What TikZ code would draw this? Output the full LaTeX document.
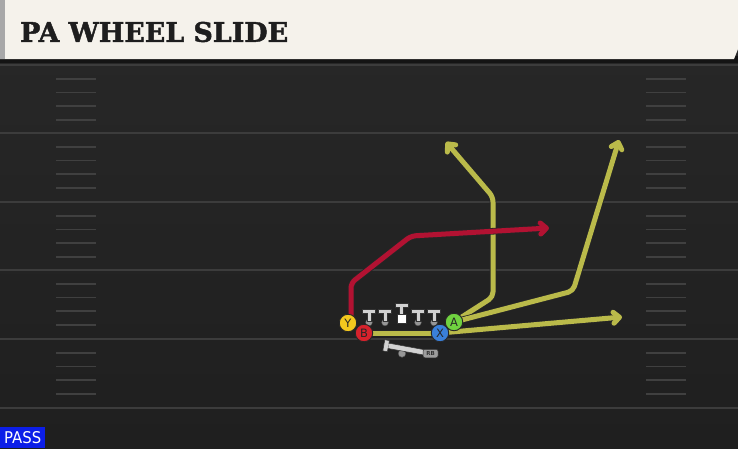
\documentclass[tikz,border=0pt]{standalone}
\usepackage{fontspec}
\usepackage{graphicx}
\setmainfont{DejaVu Sans}
\newfontfamily\titlefont[FakeBold=1.6]{DejaVu Serif Bold}
\usetikzlibrary{arrows.meta}
\definecolor{fieldtop}{RGB}{40,40,40}
\definecolor{fieldbot}{RGB}{31,31,31}
\definecolor{fieldline}{RGB}{60,60,60}
\definecolor{hashcol}{RGB}{64,64,64}
\definecolor{cream}{RGB}{245,242,235}
\definecolor{stripe}{RGB}{168,168,168}
\definecolor{olive}{RGB}{186,186,74}
\definecolor{routered}{RGB}{178,18,50}
\definecolor{pyellow}{RGB}{244,200,30}
\definecolor{pred}{RGB}{214,34,44}
\definecolor{pblue}{RGB}{58,128,218}
\definecolor{pgreen}{RGB}{112,210,64}
\definecolor{linegray}{RGB}{210,210,210}
\definecolor{dotgray}{RGB}{150,150,150}
\definecolor{passblue}{RGB}{12,30,232}
\definecolor{titleink}{RGB}{30,30,30}
\tikzset{
  route/.style={line width=5pt, line join=round, line cap=round, rounded corners=5pt,
    preaction={draw=black!85, line width=6.6pt}},
  tip/.style={-{Straight Barb[length=6pt,width=11pt,line cap=round,line join=round]}},
  player/.style={circle, draw=black!85, line width=0.9pt, minimum size=17.5pt, inner sep=0pt,
    text=black!85, font=\fontsize{11.5}{11.5}\selectfont},
  tman/.style={fill=linegray, draw=black!80, line width=0.5pt},
  hash/.style={draw=hashcol, line width=1.8pt},
  yard/.style={draw=fieldline, line width=2pt},
}
\begin{document}
\begin{tikzpicture}[x=1pt,y=-1pt]
\useasboundingbox (0,0) rectangle (738,448);
% field
\shade[top color=fieldtop, bottom color=fieldbot] (0,0) rectangle (738,448);
\foreach \yy in {65,133,202,270,339,408}{\draw[yard] (0,\yy) -- (738,\yy);}
\foreach \base in {65,133,202,270,339}{
  \foreach \k in {1,2,3,4}{
    \draw[hash] (56,\base+\k*13.7) -- (96,\base+\k*13.7);
    \draw[hash] (646,\base+\k*13.7) -- (686,\base+\k*13.7);
  }
}
% header
\fill[black!92] (0,56) rectangle (738,63);
\fill[cream] (0,0) -- (738,0) -- (738,49) -- (734,59) -- (0,59) -- cycle;
\fill[stripe] (0,0) rectangle (5,59);
\node[anchor=west, inner sep=0pt, text=titleink] (title) at (20,32)
  {\resizebox{268pt}{20pt}{\titlefont PA WHEEL SLIDE}};
% PASS label
\node[anchor=south west, fill=passblue, minimum width=45pt, minimum height=21pt, inner sep=0pt,
  text=white] (pass) at (0,448) {\resizebox{37pt}{12pt}{PASS}};
% player positions
\coordinate (Ypos) at (348,323);
\coordinate (Bpos) at (364,333);
\coordinate (Xpos) at (440,333);
\coordinate (Apos) at (454,322);
\coordinate (r1) at (351,323);
\coordinate (r2) at (351,283);
\coordinate (r3) at (411,236);
\coordinate (r4) at (549,228);
\coordinate (a1) at (493,297);
\coordinate (a2) at (493,197);
\coordinate (a3) at (446,142);
\coordinate (b1) at (573,291);
\coordinate (b2) at (619,140);
\coordinate (c1) at (622,317);
% routes
\draw[route, olive, tip] (Apos) -- (a1) -- (a2) -- (a3);
\draw[route, olive, tip] (Apos) -- (b1) -- (b2);
\draw[route, olive, tip] (Xpos) -- (c1);
\draw[route, olive] (Bpos) -- (Xpos);
\draw[route, routered, tip] (r1) -- (r2) -- (r3) -- (r4);
% linemen
\foreach \xx in {369,385,418,434}{
  \filldraw[fill=dotgray, draw=black!70, line width=0.4pt] (\xx,322.5) circle (3.4);
  \filldraw[tman] (\xx-2,312) rectangle (\xx+2,321);
  \filldraw[tman] (\xx-6.5,309) rectangle (\xx+6.5,313.5);
  \fill[linegray] (\xx-1.5,312.5) rectangle (\xx+1.5,314);
}
% center
\filldraw[tman] (399.5,306) rectangle (403.5,316);
\filldraw[tman] (395,303) rectangle (408,307.5);
\fill[linegray] (400,306.5) rectangle (403,308);
\filldraw[fill=white, draw=black!80, line width=0.5pt] (397.5,314.5) rectangle (406.5,323.5);
% running back
\filldraw[fill=dotgray, draw=black!70, line width=0.4pt] (402,353.5) circle (3.8);
\filldraw[tman] (386.8,342.8) -- (424.8,349.8) -- (423.8,355) -- (385.8,348) -- cycle;
\filldraw[tman] (384.8,339.8) -- (389.4,340.6) -- (387.4,351.6) -- (382.8,350.8) -- cycle;
\fill[linegray] (386.6,343.6) -- (388.8,344) -- (388,348) -- (385.8,347.6) -- cycle;
\node[fill=black!25!linegray, draw=black!80, line width=0.5pt, rounded corners=2pt,
  minimum width=15pt, minimum height=8.5pt, inner sep=0pt, text=black!80,
  font=\fontsize{5.5}{5.5}\selectfont\bfseries] (rb) at (430.5,353.5) {RB};
% players
\node[player, fill=pyellow] (Y) at (Ypos) {Y};
\node[player, fill=pred] (B) at (Bpos) {B};
\node[player, fill=pblue] (X) at (Xpos) {X};
\node[player, fill=pgreen] (A) at (Apos) {A};
\end{tikzpicture}
\end{document}
